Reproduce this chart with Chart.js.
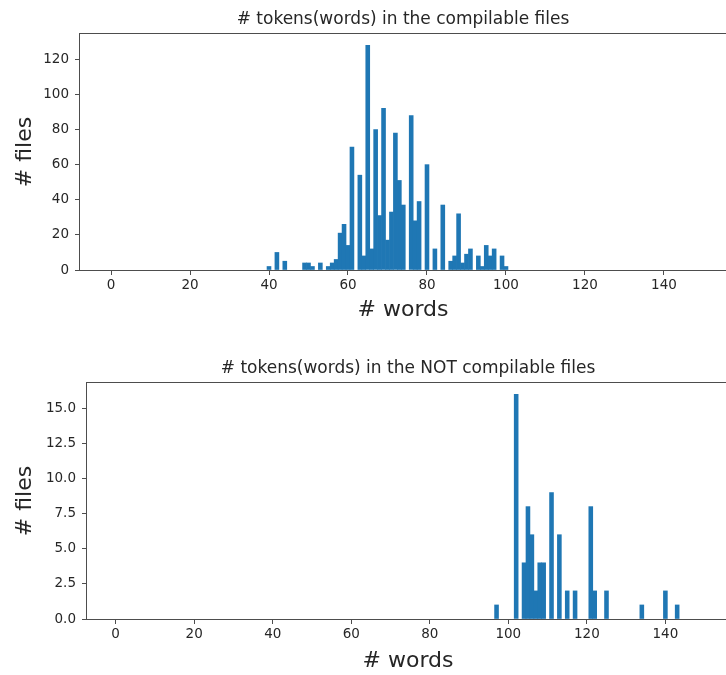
<!DOCTYPE html>
<html>
<head>
<meta charset="utf-8">
<script src="https://cdn.jsdelivr.net/npm/chart.js@4.4.0/dist/chart.umd.min.js"></script>
<style>
  html, body { margin: 0; padding: 0; background: #fff; overflow: hidden; width: 726px; height: 675px; }
  canvas { position: absolute; left: 0; }
  #compChart { top: 0; }
  #notCompChart { top: 349px; }
</style>
</head>
<body>
<canvas id="compChart" width="800" height="330"></canvas>
<canvas id="notCompChart" width="800" height="330"></canvas>
<script>
// # words per file -> number of files (compilable)
const compWords = [40, 42, 44, 49, 50, 51, 53, 55, 56, 57, 58, 59, 60, 61, 63, 64, 65, 66, 67, 68, 69, 70, 71, 72, 73, 74, 76, 77, 78, 80, 82, 84, 86, 87, 88, 89, 90, 91, 93, 94, 95, 96, 97, 99, 100]
const compFiles = [2, 10, 5, 4, 4, 2, 4, 2, 4, 6, 21, 26, 14, 70, 54, 8, 128, 12, 80, 31, 92, 17, 33, 78, 51, 37, 88, 28, 39, 60, 12, 37, 5, 8, 32, 4, 9, 12, 8, 2, 14, 8, 12, 8, 2]

// # words per file -> number of files (NOT compilable)
const notCompWords = [97, 102, 104, 105, 106, 107, 108, 109, 111, 113, 115, 117, 121, 122, 125, 134, 140, 143]
const notCompFiles = [1, 16, 4, 8, 6, 2, 4, 4, 9, 6, 2, 2, 8, 2, 2, 1, 2, 1]

const FONT = "'DejaVu Sans', sans-serif"
const TEXT = '#262626'
const SPINE = '#4d4d4d'

//draws the 4 spines round the plot area + the title centred over the plot (like matplotlib)
const framePlugin = {
    id: 'frame',
    afterDraw(chart, args, opts) {
        const { ctx, chartArea } = chart
        ctx.save()
        ctx.strokeStyle = SPINE
        ctx.lineWidth = 1
        ctx.strokeRect(Math.round(chartArea.left) - 0.5, Math.round(chartArea.top) - 0.5,
            Math.round(chartArea.right - chartArea.left) + 1, Math.round(chartArea.bottom - chartArea.top) + 1)
        ctx.fillStyle = TEXT
        ctx.font = '17px ' + FONT
        ctx.textAlign = 'center'
        ctx.textBaseline = 'middle'
        ctx.fillText(opts.text, (chartArea.left + chartArea.right) / 2, chartArea.top - 14.5)
        ctx.restore()
    }
}

function makeHist(id, title, words, files, cfg) {
    const points = words.map((w, i) => ({ x: w, y: files[i] }))
    return new Chart(document.getElementById(id), {
        type: 'bar',
        data: {
            datasets: [{
                data: points,
                backgroundColor: '#1f77b4',
                borderWidth: 0,
                barPercentage: 1,
                categoryPercentage: 1
            }]
        },
        options: {
            responsive: false,
            animation: false,
            devicePixelRatio: 1,
            layout: { padding: { left: 0, right: 800 - cfg.right, top: 34, bottom: 0 } },
            plugins: {
                legend: { display: false },
                tooltip: { enabled: false },
                title: { display: false },
                frame: { text: title }
            },
            scales: {
                x: {
                    type: 'linear',
                    min: cfg.xMin,
                    max: cfg.xMax,
                    offset: false,
                    afterFit: (scale) => { scale.height = 60 },
                    grid: { offset: false, drawOnChartArea: false, drawTicks: true, tickLength: 5, color: SPINE },
                    border: { display: false },
                    ticks: {
                        stepSize: 20,
                        includeBounds: false,
                        autoSkip: false,
                        maxRotation: 0,
                        padding: 2,
                        color: TEXT,
                        font: { family: FONT, size: 13.5 }
                    },
                    title: {
                        display: true,
                        text: '# words',
                        color: TEXT,
                        font: { family: FONT, size: 22, lineHeight: 1 },
                        padding: { top: 0, bottom: cfg.xTitlePad }
                    }
                },
                y: {
                    min: 0,
                    max: cfg.yMax,
                    afterFit: (scale) => { scale.width = cfg.left },
                    grid: { drawOnChartArea: false, drawTicks: true, tickLength: 5, color: SPINE },
                    border: { display: false },
                    ticks: {
                        stepSize: cfg.yStep,
                        includeBounds: false,
                        padding: 6,
                        color: TEXT,
                        font: { family: FONT, size: 13.5 },
                        callback: cfg.yFormat
                    },
                    title: {
                        display: true,
                        text: '# files',
                        color: TEXT,
                        font: { family: FONT, size: 22, lineHeight: 1 },
                        padding: { top: 14.5, bottom: 0 }
                    }
                }
            }
        },
        plugins: [framePlugin]
    })
}

makeHist('compChart', '# tokens(words) in the compilable files', compWords, compFiles, {
    left: 80, right: 726, xMin: -7.85, xMax: 155.7,
    yMax: 134.4, yStep: 20, yFormat: (v) => v,
    xTitlePad: 9
})

makeHist('notCompChart', '# tokens(words) in the NOT compilable files', notCompWords, notCompFiles, {
    left: 87, right: 729, xMin: -7.3, xMax: 156.2,
    yMax: 16.8, yStep: 2.5, yFormat: (v) => v.toFixed(1),
    xTitlePad: 7
})
</script>
</body>
</html>
